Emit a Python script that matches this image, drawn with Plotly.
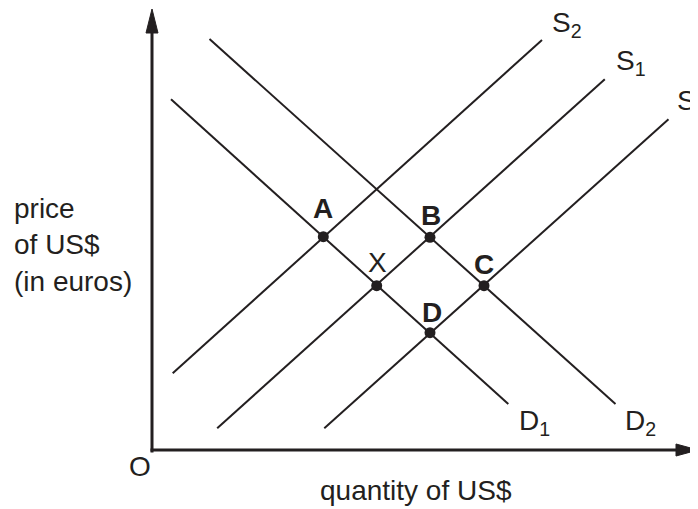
import plotly.graph_objects as go

# supply / demand lines (quantity, price), drawn start -> end
line_names = ["D<sub>1</sub>", "D<sub>2</sub>", "S<sub>2</sub>", "S<sub>1</sub>", "S<sub>3</sub>"]
q_start = [1.9, 5.75, 2.07, 6.52, 17.23]
p_start = [35.07, 41.1, 7.67, 2.17, 2.17]
q_end = [35.63, 46.35, 39.0, 45.28, 51.65]
p_end = [4.6, 4.6, 41.0, 37.07, 33.07]

# where the line labels sit (left edge, middle)
label_q = [36.45, 47.05, 39.8, 46.15, 52.3]
label_p = [2.8, 2.8, 42.55, 38.8, 34.8]

# equilibrium points
point_names = ["A", "B", "X", "C", "D"]
point_q = [17.13, 27.8, 22.47, 33.2, 27.8]
point_p = [21.33, 21.27, 16.43, 16.43, 11.73]
point_label_q = [17.1, 27.9, 22.5, 33.2, 28.0]
point_label_p = [24.2, 23.5, 18.8, 18.6, 13.8]

ink = "#231f20"
font = "Liberation Sans, Arial, sans-serif"

fig = go.Figure()

for i in range(len(line_names)):
    fig.add_trace(go.Scatter(
        x=[q_start[i], q_end[i]], y=[p_start[i], p_end[i]],
        mode="lines", line=dict(color=ink, width=2),
        hoverinfo="skip", showlegend=False))

fig.add_trace(go.Scatter(
    x=point_q, y=point_p, mode="markers",
    marker=dict(color=ink, size=11),
    hoverinfo="skip", showlegend=False))

# axes with arrowheads
fig.add_shape(type="line", x0=0, y0=-0.25, x1=0, y1=42.5,
              line=dict(color=ink, width=3))
fig.add_shape(type="line", x0=-0.15, y0=0, x1=53, y1=0,
              line=dict(color=ink, width=3))
fig.add_shape(type="path", path="M 0,44.1 L -0.6,41.7 L 0.6,41.7 Z",
              fillcolor=ink, line=dict(color=ink, width=1))
fig.add_shape(type="path", path="M 54.6,0 L 52.4,0.6 L 52.4,-0.6 Z",
              fillcolor=ink, line=dict(color=ink, width=1))

for i in range(len(line_names)):
    fig.add_annotation(x=label_q[i], y=label_p[i], text=line_names[i],
                       showarrow=False, xanchor="left", yanchor="middle",
                       font=dict(family=font, size=28, color=ink))

for i in range(len(point_names)):
    txt = point_names[i] if point_names[i] == "X" else "<b>" + point_names[i] + "</b>"
    fig.add_annotation(x=point_label_q[i], y=point_label_p[i], text=txt,
                       showarrow=False, xanchor="center", yanchor="middle",
                       font=dict(family=font, size=28, color=ink))

fig.add_annotation(x=-1.2, y=-1.6, text="O", showarrow=False,
                   xanchor="center", yanchor="middle",
                   font=dict(family=font, size=28, color=ink))
fig.add_annotation(x=26.4, y=-4.0, text="quantity of US$", showarrow=False,
                   xanchor="center", yanchor="middle",
                   font=dict(family=font, size=28, color=ink))
fig.add_annotation(x=-14.0, y=20.5, text="price<br>of US$<br>(in euros)",
                   showarrow=False, xanchor="left", yanchor="middle", align="left",
                   font=dict(family=font, size=28, color=ink))

# the page body has an 8px margin, so the figure is 8px smaller and the
# ranges start 8px later to keep 10px per unit with the origin at (152, 450)
fig.update_layout(
    width=690, height=501,
    margin=dict(l=0, r=0, t=0, b=0),
    paper_bgcolor="white", plot_bgcolor="white",
    xaxis=dict(range=[-14.4, 54.6], visible=False, fixedrange=True),
    yaxis=dict(range=[-5.9, 44.2], visible=False, fixedrange=True),
    showlegend=False,
)

fig.write_html("out.html")
